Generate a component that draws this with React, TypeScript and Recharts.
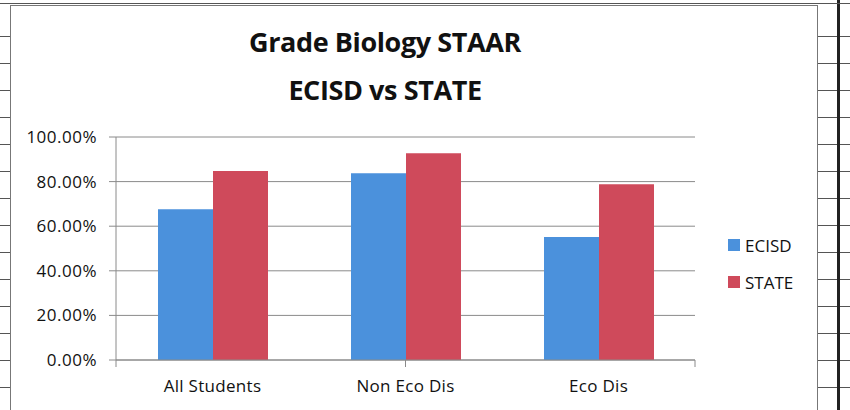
import React from 'react';
import { BarChart, Bar, XAxis, YAxis, CartesianGrid } from 'recharts';

const categories = ['All Students', 'Non Eco Dis', 'Eco Dis'];
const ecisd = [0.676, 0.837, 0.552];
const state = [0.848, 0.927, 0.788];
const yTicks = [0, 0.2, 0.4, 0.6, 0.8, 1.0];
const edgeTicks = [0, 1, 2, 3];
const seriesNames = ['ECISD', 'STATE'];
const seriesColors = ['#4b91dc', '#cf4a5b'];

const data = categories.map((name, i) => ({ name, ECISD: ecisd[i], STATE: state[i] }));

const font = '"Open Sans", sans-serif';
const axisColor = '#8a8a8a';

export default function App() {
  return (
    <div
      style={{
        position: 'absolute',
        left: 0,
        top: 0,
        width: 850,
        height: 410,
        overflow: 'hidden',
        background: '#fff',
        fontFamily: font,
      }}
    >
      {/* spreadsheet cells behind the chart */}
      <div
        style={{
          position: 'absolute',
          left: 0,
          top: 10,
          width: 10,
          height: 400,
          borderRight: '1px solid #444',
          backgroundImage: 'repeating-linear-gradient(to bottom, transparent 0 26px, #555 26px 27px)',
        }}
      />
      <div
        style={{
          position: 'absolute',
          left: 817,
          top: 10,
          width: 33,
          height: 400,
          backgroundImage: 'repeating-linear-gradient(to bottom, transparent 0 26px, #555 26px 27px)',
        }}
      />
      <div style={{ position: 'absolute', left: 837, top: 0, width: 3, height: 410, background: '#222' }} />
      <div style={{ position: 'absolute', left: 0, top: 3, width: 850, height: 1, background: '#555' }} />

      {/* chart area */}
      <div
        style={{
          position: 'absolute',
          left: 10,
          top: 5,
          width: 806,
          height: 410,
          background: '#fff',
          border: '1px solid #777',
        }}
      >
        <div
          style={{
            position: 'absolute',
            left: 0,
            top: 12,
            width: 748,
            textAlign: 'center',
            fontWeight: 700,
            fontSize: 27,
            letterSpacing: -0.4,
            lineHeight: '48px',
            color: '#111',
          }}
        >
          Grade Biology STAAR
          <br />
          ECISD vs STATE
        </div>

        <BarChart
          width={806}
          height={405}
          data={data}
          margin={{ top: 131, right: 122, bottom: 0, left: 0 }}
          barGap={0}
          barSize={55}
          style={{ position: 'absolute', left: 0, top: 0 }}
        >
          <CartesianGrid vertical={false} stroke={axisColor} strokeWidth={1} />
          <XAxis
            xAxisId="a"
            type="number"
            domain={[0, 3]}
            ticks={edgeTicks}
            allowDataOverflow
            height={8}
            tickSize={7}
            tickFormatter={() => ''}
            stroke={axisColor}
            tickLine={{ stroke: axisColor }}
          />
          <XAxis
            xAxisId="b"
            dataKey="name"
            height={43}
            axisLine={false}
            tickLine={false}
            tickSize={0}
            tickMargin={12}
            tick={{ fontSize: 17, fill: '#111', fontFamily: font, letterSpacing: 0.3 }}
          />
          <YAxis
            width={105}
            domain={[0, 1]}
            ticks={yTicks}
            tickFormatter={(v: number) => (v * 100).toFixed(2) + '%'}
            stroke={axisColor}
            tickSize={7}
            tickMargin={12}
            tick={{ fontSize: 17, fill: '#111', fontFamily: font, letterSpacing: 0.5 }}
          />
          <Bar xAxisId="b" dataKey="ECISD" fill={seriesColors[0]} isAnimationActive={false} />
          <Bar xAxisId="b" dataKey="STATE" fill={seriesColors[1]} isAnimationActive={false} />
        </BarChart>

        {/* legend */}
        <div style={{ position: 'absolute', left: 717, top: 227 }}>
          {seriesNames.map((s, i) => (
            <div key={s} style={{ display: 'flex', alignItems: 'center', height: 24, marginBottom: 13 }}>
              <span style={{ width: 12, height: 12, background: seriesColors[i], marginRight: 5 }} />
              <span style={{ fontSize: 17, color: '#111' }}>{s}</span>
            </div>
          ))}
        </div>
      </div>
    </div>
  );
}
